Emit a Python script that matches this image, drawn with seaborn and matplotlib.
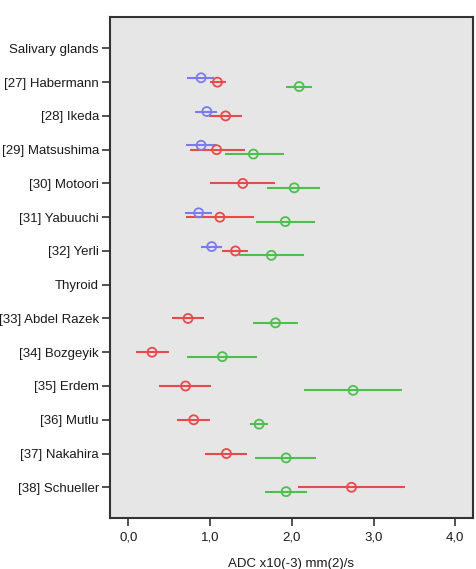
import numpy as np
import pandas as pd
import matplotlib
matplotlib.use("Agg")
import matplotlib.pyplot as plt
import seaborn as sns

categories = ["Salivary glands", "[27] Habermann", "[28] Ikeda", "[29] Matsushima",
              "[30] Motoori", "[31] Yabuuchi", "[32] Yerli", "Thyroid",
              "[33] Abdel Razek", "[34] Bozgeyik", "[35] Erdem", "[36] Mutlu",
              "[37] Nakahira", "[38] Schueller"]

nan = np.nan
# series 1 (blue)
blue_mean = [nan, 0.89, 0.96, 0.89, nan, 0.86, 1.02, nan, nan, nan, nan, nan, nan, nan]
blue_lo   = [nan, 0.72, 0.82, 0.71, nan, 0.69, 0.89, nan, nan, nan, nan, nan, nan, nan]
blue_hi   = [nan, 1.05, 1.09, 1.07, nan, 1.02, 1.15, nan, nan, nan, nan, nan, nan, nan]
# series 2 (red)
red_mean = [nan, 1.09, 1.19, 1.08, 1.40, 1.12, 1.31, nan, 0.73, 0.29, 0.70, 0.80, 1.20, 2.73]
red_lo   = [nan, 1.00, 0.99, 0.75, 1.00, 0.70, 1.14, nan, 0.54, 0.09, 0.38, 0.60, 0.94, 2.07]
red_hi   = [nan, 1.20, 1.39, 1.43, 1.80, 1.54, 1.47, nan, 0.92, 0.50, 1.01, 1.00, 1.45, 3.38]
# series 3 (green)
green_mean = [nan, 2.09, nan, 1.53, 2.03, 1.92, 1.75, nan, 1.80, 1.15, 2.75, 1.60, 1.93, 1.93]
green_lo   = [nan, 1.93, nan, 1.18, 1.70, 1.56, 1.35, nan, 1.52, 0.72, 2.15, 1.49, 1.55, 1.67]
green_hi   = [nan, 2.25, nan, 1.90, 2.35, 2.28, 2.15, nan, 2.08, 1.58, 3.35, 1.71, 2.30, 2.18]

x_ticks = [0.0, 1.0, 2.0, 3.0, 4.0]
x_tick_labels = ["0,0", "1,0", "2,0", "3,0", "4,0"]
x_label = "ADC x10(-3) mm(2)/s"

series = [("Series 1", blue_mean, blue_lo, blue_hi, "#7b7bf0", -0.13),
          ("Series 2", red_mean, red_lo, red_hi, "#e8494a", 0.0),
          ("Series 3", green_mean, green_lo, green_hi, "#4cbf4c", 0.13)]

rows = []
for name, m, lo, hi, col, off in series:
    for i, cat in enumerate(categories):
        if not np.isnan(m[i]):
            rows.append(dict(series=name, cat=cat, pos=i + off, mean=m[i], lo=lo[i], hi=hi[i]))
df = pd.DataFrame(rows)

sns.set_style("white")
plt.rcParams['font.family'] = ['Liberation Sans', 'DejaVu Sans']

fig = plt.figure(figsize=(4.77, 5.69), dpi=100)
ax = fig.add_axes([110/477, 1 - 518/569, (473 - 110)/477, (518 - 17)/569])
ax.set_facecolor("#e6e6e6")

palette = {name: col for name, _, _, _, col, _ in series}
for name, sub in df.groupby("series"):
    ax.hlines(sub["pos"], sub["lo"], sub["hi"], color=palette[name], lw=1.5, zorder=2)

sns.scatterplot(data=df, x="mean", y="pos", hue="series", palette=palette, ax=ax,
                marker="o", s=42, facecolors="none", linewidth=1.3, legend=False, zorder=3)
coll = ax.collections[-1]
coll.set_edgecolors([palette[s] for s in df["series"]])
coll.set_facecolors("none")

ax.set_xlim(-0.224, 4.216)
ax.set_ylim(len(categories) - 1 + 0.91, -0.93)
ax.set_yticks(range(len(categories)))
ax.set_yticklabels(categories, fontsize=9.5, color="#1a1a1a")
ax.set_xticks(x_ticks)
ax.set_xticklabels(x_tick_labels, fontsize=9.5, color="#1a1a1a")
ax.set_xlabel(x_label, fontsize=9.5, color="#1a1a1a", labelpad=10)
ax.set_ylabel("")
ax.tick_params(axis="y", direction="out", length=6, width=1.2, color="#333333",
               left=True, pad=2)
ax.tick_params(axis="x", direction="out", length=6, width=1.2, color="#333333",
               bottom=True, pad=4)
for sp in ax.spines.values():
    sp.set_color("#333333")
    sp.set_linewidth(1.5)

fig.savefig("out.png", dpi=100, facecolor="white")
